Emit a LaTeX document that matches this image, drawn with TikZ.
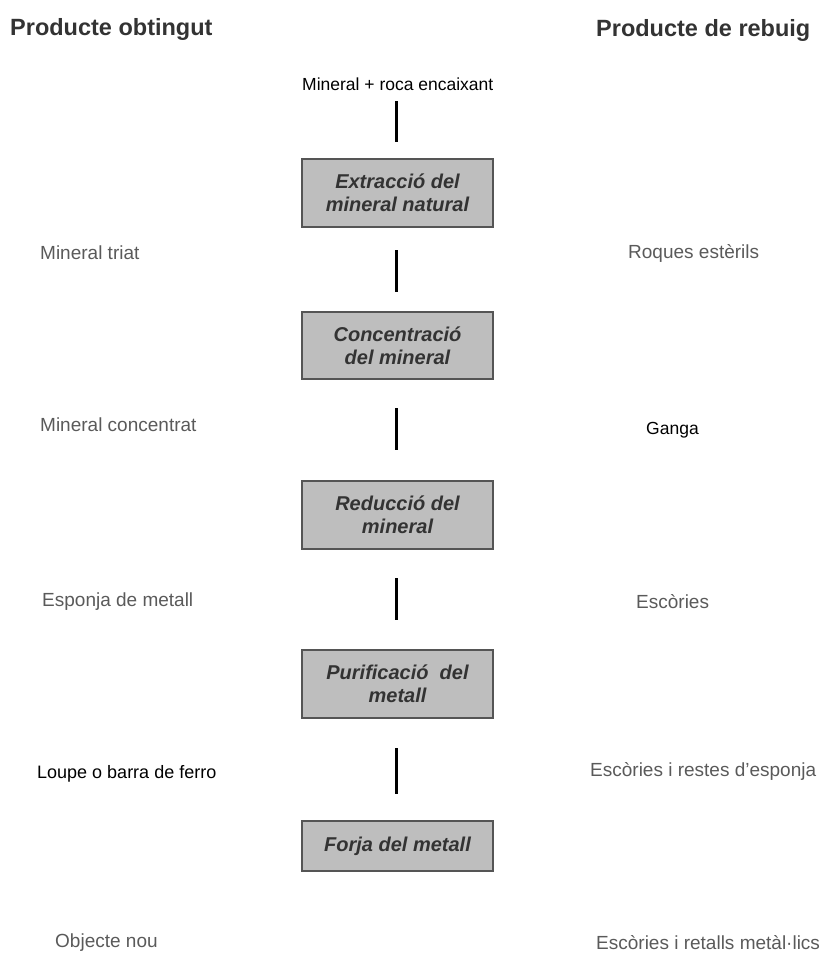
\documentclass[tikz,border=0pt]{standalone}
\usepackage{fontspec}
\setmainfont{Liberation Sans}
\definecolor{boxfill}{HTML}{BEBEBE}
\definecolor{boxdraw}{HTML}{555555}
\definecolor{boxtext}{HTML}{333333}
\definecolor{graytext}{HTML}{5A5A5A}
\definecolor{headtext}{HTML}{333333}
\tikzset{
  stagebox/.style={draw=boxdraw, fill=boxfill, line width=1.5pt, minimum width=191pt,
    inner sep=2pt, align=center, text=boxtext,
    font=\fontsize{20}{23}\selectfont\bfseries\itshape},
  header/.style={anchor=west, inner sep=0pt, text=headtext, font=\fontsize{23.5}{27}\selectfont\bfseries},
  glabel/.style={anchor=west, inner sep=0pt, text=graytext, font=\fontsize{19}{22}\selectfont},
  blabel/.style={anchor=west, inner sep=0pt, text=black, font=\fontsize{17.5}{21}\selectfont},
  link/.style={line width=3pt, black}
}
\begin{document}
\begin{tikzpicture}[x=1pt,y=-1pt]
\useasboundingbox (0,0) rectangle (825,953);
% headers
\node[header] (h1) at (10,29) {Producte obtingut};
\node[header] (h2) at (596,30) {Producte de rebuig};
% top input
\node[blabel] (top) at (302,84) {Mineral + roca encaixant};
% boxes
\node[stagebox, minimum height=68pt] (b1) at (397.5,193) {Extracció del\\mineral natural};
\node[stagebox, minimum height=67pt] (b2) at (397.5,345.5) {Concentració\\del mineral};
\node[stagebox, minimum height=68pt] (b3) at (397.5,515) {Reducció del\\mineral};
\node[stagebox, minimum height=68pt] (b4) at (397.5,684) {Purificació~ del\\metall};
\node[stagebox, minimum height=50pt] (b5) at (397.5,846) {Forja del metall};
% connector coordinates
\coordinate (l1a) at (396,101); \coordinate (l1b) at (396,142);
\coordinate (l2a) at (396,250); \coordinate (l2b) at (396,292);
\coordinate (l3a) at (396,408); \coordinate (l3b) at (396,450);
\coordinate (l4a) at (396,578); \coordinate (l4b) at (396,620);
\coordinate (l5a) at (396,748); \coordinate (l5b) at (396,794);
\draw[link] (l1a) -- (l1b);
\draw[link] (l2a) -- (l2b);
\draw[link] (l3a) -- (l3b);
\draw[link] (l4a) -- (l4b);
\draw[link] (l5a) -- (l5b);
% left labels
\node[glabel] (o1) at (40,253) {Mineral triat};
\node[glabel] (o2) at (40,425) {Mineral concentrat};
\node[glabel] (o3) at (42,602) {Esponja de metall};
\node[blabel, font=\fontsize{18}{21}\selectfont] (o4) at (37,774) {Loupe o barra de ferro};
\node[glabel] (o5) at (55,943) {Objecte nou};
% right labels
\node[glabel] (r1) at (628,253) {Roques estèrils};
\node[blabel] (r2) at (646,430) {Ganga};
\node[glabel] (r3) at (636,602) {Escòries};
\node[glabel] (r4) at (590,771) {Escòries i restes d’esponja};
\node[glabel] (r5) at (596,943) {Escòries i retalls metàl·lics};
\end{tikzpicture}
\end{document}
